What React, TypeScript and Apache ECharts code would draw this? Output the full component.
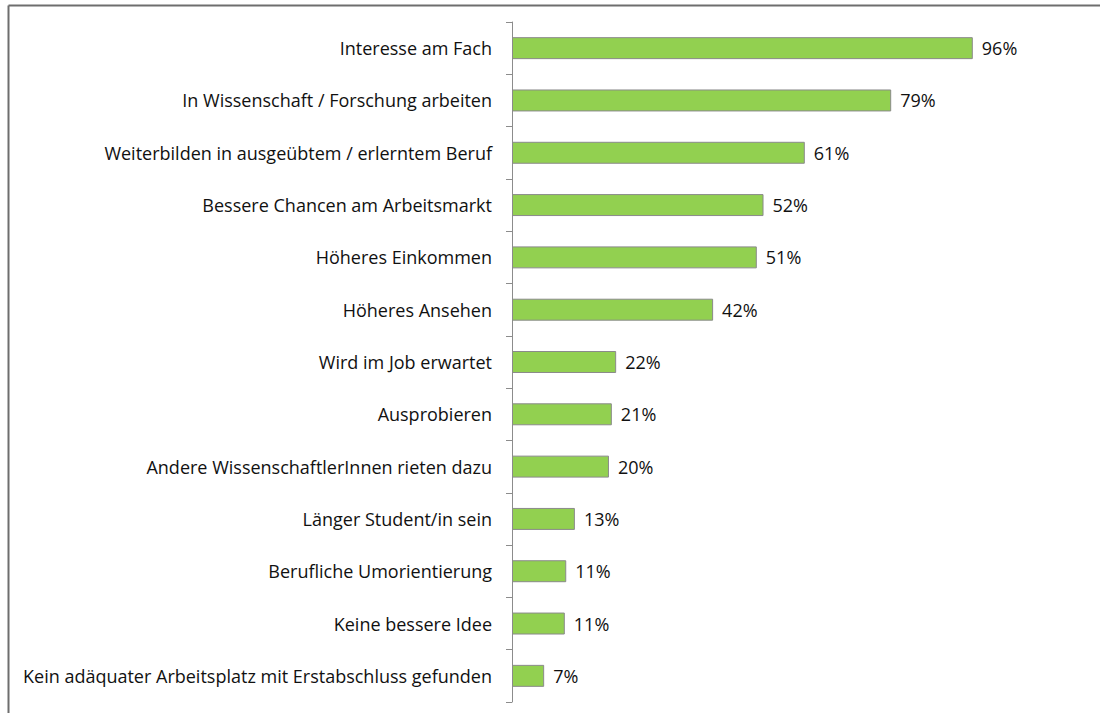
import React, { useEffect, useRef } from "react";
import * as echarts from "echarts";

const categories: string[] = [
  "Interesse am Fach",
  "In Wissenschaft / Forschung arbeiten",
  "Weiterbilden in ausgeübtem / erlerntem Beruf",
  "Bessere Chancen am Arbeitsmarkt",
  "Höheres Einkommen",
  "Höheres Ansehen",
  "Wird im Job erwartet",
  "Ausprobieren",
  "Andere WissenschaftlerInnen rieten dazu",
  "Länger Student/in sein",
  "Berufliche Umorientierung",
  "Keine bessere Idee",
  "Kein adäquater Arbeitsplatz mit Erstabschluss gefunden",
];

const values: number[] = [96, 79, 61, 52.4, 51, 41.9, 21.7, 20.8, 20.2, 13.1, 11.3, 11, 6.7];

export default function App() {
  const ref = useRef<HTMLDivElement>(null);
  useEffect(() => {
    if (!ref.current) return;
    const chart = echarts.init(ref.current, undefined, { renderer: "svg" });
    const font = "Open Sans";
    chart.setOption({
      animation: false,
      backgroundColor: "#ffffff",
      graphic: [
        { type: "line", shape: { x1: 8.5, y1: 5.5, x2: 1100, y2: 5.5 }, style: { stroke: "#6e6e6e", lineWidth: 2 } },
        { type: "line", shape: { x1: 8.5, y1: 5.5, x2: 8.5, y2: 713 }, style: { stroke: "#6e6e6e", lineWidth: 2 } },
      ],
      grid: { left: 512, top: 22, height: 680, right: 108, containLabel: false },
      xAxis: { type: "value", min: 0, max: 100, show: false },
      yAxis: {
        type: "category",
        data: categories,
        inverse: true,
        axisLine: { show: true, lineStyle: { color: "#8c8c8c", width: 1 } },
        axisTick: { show: true, length: 6, lineStyle: { color: "#8c8c8c" } },
        axisLabel: { color: "#111", fontFamily: font, fontSize: 18, margin: 20 },
      },
      series: [
        {
          type: "bar",
          data: values,
          barCategoryGap: "58%",
          itemStyle: { color: "#92D050", borderColor: "#8a8a8a", borderWidth: 1 },
          label: {
            show: true,
            position: "right",
            distance: 9,
            color: "#111",
            fontFamily: font,
            fontSize: 18,
            formatter: (p: any) => Math.round(p.value) + "%",
          },
        },
      ],
    });
    return () => chart.dispose();
  }, []);
  return (
    <div
      ref={ref}
      style={{ position: "absolute", left: 0, top: 0, width: 1100, height: 713 }}
    />
  );
}
